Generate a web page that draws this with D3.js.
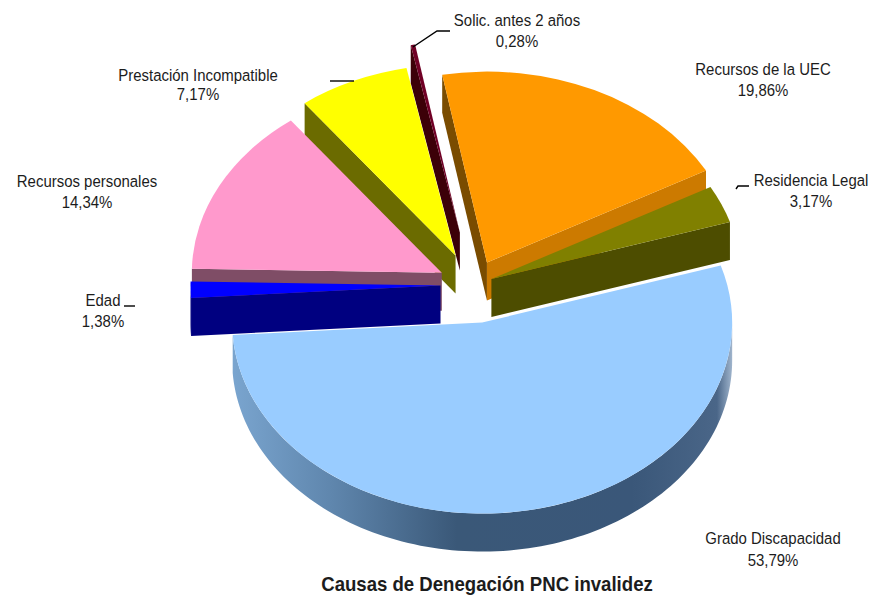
<!DOCTYPE html>
<html>
<head>
<meta charset="utf-8">
<title>Causas de Denegación PNC invalidez</title>
<script src="https://cdn.jsdelivr.net/npm/d3@7"></script>
<style>
  html, body { margin: 0; background: #fff; }
  text { font-family: "Liberation Sans", Arial, sans-serif; fill: #1c1c1c; }
</style>
</head>
<body>
<div id="chart"></div>
<script>
// Chart data, clockwise from the big slice
const categories = ["Grado Discapacidad", "Edad", "Recursos personales", "Prestación Incompatible", "Solic. antes 2 años", "Recursos de la UEC", "Residencia Legal"];
const shares = [53.79, 1.38, 14.34, 7.17, 0.28, 19.86, 3.17];
const explosion = [20, 13, 14, 17, 28, 13, 8]; // % of the radius

const topColors = ["#99ccff", "#0000ff", "#ff99cc", "#ffff00", "#700025", "#ff9900", "#808000"];
const startFaceColors = ["#3d5a7c", "#000080", "#7f4d66", "#6b6b00", "#3c0008", "#7a4c00", "#4d4d00"];
const endFaceColors = ["#3d5a7c", "#000080", "#7f4d66", "#6b6b00", "#3c0008", "#cc7a00", "#4d4d00"];

// Back slices first, the later ones cover them
const drawOrder = [0, 4, 3, 2, 1, 5, 6];

// Label anchors: centre x, first baseline, second baseline
const labelPos = [[773, 544, 566], [103, 306, 327], [87, 187, 208], [198, 81, 100], [517, 26, 47], [763, 75, 96], [811, 186, 207]];
const leaders = [
  [[413, 47], [437, 31], [450, 31]],
  [[330, 81], [354, 81]],
  [[736, 189], [738, 186], [749, 186]],
  [[124, 306], [135, 306]]
];

const width = 871;
const height = 595;
const cx = 473;
const cy = 285;
const radius = 250;
const tilt = 0.764;
const depth = 38;
const firstAngle = 72.6 * Math.PI / 180;

const svg = d3.select("#chart")
  .append("svg")
  .attr("width", width)
  .attr("height", height);

// Shading of the big slice's rim
const grad = svg.append("defs").append("linearGradient")
  .attr("id", "rim")
  .attr("gradientUnits", "userSpaceOnUse")
  .attr("x1", 232).attr("x2", 732).attr("y1", 0).attr("y2", 0);
[[0, "#7aa5cf"], [0.2, "#5f86ad"], [0.45, "#3a5878"], [0.8, "#3a5779"], [0.97, "#4a6688"], [1, "#9fb4cc"]].forEach(s => {
  grad.append("stop").attr("offset", s[0]).attr("stop-color", s[1]);
});

const pie = d3.pie()
  .sort(null)
  .startAngle(firstAngle)
  .endAngle(firstAngle + 2 * Math.PI);
const slices = pie(shares);

const arc = d3.arc().innerRadius(0).outerRadius(radius);
const line = d3.line();

// Angle runs clockwise from 12 o'clock, as in d3.arc
function project(apex, angle, r, z) {
  return [apex[0] + r * Math.sin(angle), apex[1] - r * Math.cos(angle) * tilt + z];
}

function apexOf(d, i) {
  const mid = (d.startAngle + d.endAngle) / 2;
  return project([cx, cy], mid, radius * explosion[i] / 100, 0);
}

function cutFace(apex, angle) {
  return line([
    project(apex, angle, 0, 0),
    project(apex, angle, radius, 0),
    project(apex, angle, radius, depth),
    project(apex, angle, 0, depth)
  ]) + "Z";
}

// Outer wall, only the part that faces the viewer
function outerWall(apex, a0, a1) {
  const pts = [];
  const two = 2 * Math.PI;
  for (const k of [0, 1, 2]) {
    const from = Math.max(a0, Math.PI / 2 + k * two);
    const to = Math.min(a1, 1.5 * Math.PI + k * two);
    if (to > from) {
      const steps = d3.range(0, 1.0001, 1 / 120).map(t => from + (to - from) * t);
      steps.forEach(a => pts.push(project(apex, a, radius, 0)));
      steps.reverse().forEach(a => pts.push(project(apex, a, radius, depth)));
    }
  }
  return pts.length ? line(pts) + "Z" : null;
}

const pieGroup = svg.append("g");

drawOrder.forEach(i => {
  const d = slices[i];
  const apex = apexOf(d, i);
  const g = pieGroup.append("g").attr("class", "slice");

  // A cut face shows only if its normal points towards the viewer
  if (Math.sin(d.startAngle) < 0) {
    g.append("path").attr("d", cutFace(apex, d.startAngle)).attr("fill", startFaceColors[i]);
  }
  if (Math.sin(d.endAngle) > 0) {
    g.append("path").attr("d", cutFace(apex, d.endAngle)).attr("fill", endFaceColors[i]);
  }

  const wall = outerWall(apex, d.startAngle, d.endAngle);
  if (wall) {
    g.append("path").attr("d", wall).attr("fill", i === 0 ? "url(#rim)" : endFaceColors[i]);
  }

  g.append("path")
    .attr("d", arc(d))
    .attr("transform", `translate(${apex[0]},${apex[1]}) scale(1,${tilt})`)
    .attr("fill", topColors[i]);
});

// Labels are squeezed sideways like the original picture
const squeeze = 0.88;
const pct = d3.format(".2f");
const labels = svg.append("g");
function addLabel(txt, x, y) {
  labels.append("text")
    .attr("transform", `translate(${x},${y}) scale(${squeeze},1)`)
    .attr("text-anchor", "middle")
    .attr("font-size", 17)
    .text(txt);
}
categories.forEach((name, i) => {
  addLabel(name, labelPos[i][0], labelPos[i][1]);
  addLabel(pct(shares[i]).replace(".", ",") + "%", labelPos[i][0], labelPos[i][2]);
});

svg.append("g").selectAll("path")
  .data(leaders)
  .enter()
  .append("path")
  .attr("d", d => line(d))
  .attr("fill", "none")
  .attr("stroke", "#000")
  .attr("stroke-width", 1.4);

svg.append("text")
  .attr("transform", `translate(487,591) scale(0.93,1)`)
  .attr("text-anchor", "middle")
  .attr("font-size", 20)
  .attr("font-weight", "bold")
  .text("Causas de Denegación PNC invalidez");
</script>
</body>
</html>
